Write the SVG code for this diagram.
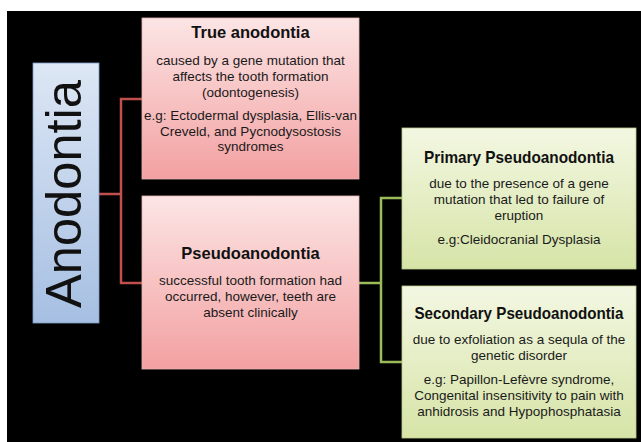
<svg xmlns="http://www.w3.org/2000/svg" width="641" height="442" viewBox="0 0 641 442">
<defs>
<linearGradient id="gBlue" x1="0" y1="0" x2="0" y2="1"><stop offset="0" stop-color="#dde7f5"/><stop offset="1" stop-color="#a6bfe2"/></linearGradient>
<linearGradient id="gPink" x1="0" y1="0" x2="0" y2="1"><stop offset="0" stop-color="#fce5e5"/><stop offset="1" stop-color="#f3a0a1"/></linearGradient>
<linearGradient id="gGreen" x1="0" y1="0" x2="0" y2="1"><stop offset="0" stop-color="#f3f7e2"/><stop offset="1" stop-color="#d6e4a7"/></linearGradient>
</defs>
<style>
.t{font-family:"Liberation Sans",Arial,sans-serif;font-size:16.5px;font-weight:bold;fill:#111;text-anchor:middle}
.b{font-family:"Liberation Sans",Arial,sans-serif;font-size:13.5px;fill:#1a1a1a;text-anchor:middle}
.red{fill:none;stroke:#c0504d;stroke-width:2.5}
.grn{fill:none;stroke:#9bbb59;stroke-width:2.5}
</style>
<rect x="0" y="0" width="641" height="442" fill="#fff"/>
<rect x="7" y="11" width="634" height="431" fill="#000"/>
<g id="connectors">
<path class="red" d="M99 194 H121 M142 99 H121 V283 H142"/>
<path class="grn" d="M359 283 H381 M402 198 H381 V362 H402"/>
</g>
<g id="anodontia">
<rect x="33" y="63" width="66" height="260" fill="url(#gBlue)" stroke="#7f9cc6" stroke-width="0.8"/>
<text transform="translate(81,194) rotate(-90)" text-anchor="middle" font-family="'Liberation Sans',Arial,sans-serif" font-size="50" fill="#111" textLength="228" lengthAdjust="spacingAndGlyphs">Anodontia</text>
</g>
<g id="true-anodontia">
<rect x="142" y="18" width="217" height="161" fill="url(#gPink)" stroke="#e8b4b4" stroke-width="0.8"/>
<text class="t" x="250.5" y="38">True anodontia</text>
<text class="b" x="250.5" y="65">caused by a gene mutation that</text>
<text class="b" x="250.5" y="81">affects the tooth formation</text>
<text class="b" x="250.5" y="97">(odontogenesis)</text>
<text class="b" x="250.5" y="120">e.g: Ectodermal dysplasia, Ellis-van</text>
<text class="b" x="250.5" y="136">Creveld, and Pycnodysostosis</text>
<text class="b" x="250.5" y="151">syndromes</text>
</g>
<g id="pseudoanodontia">
<rect x="142" y="196" width="217" height="173" fill="url(#gPink)" stroke="#e8b4b4" stroke-width="0.8"/>
<text class="t" x="250.5" y="259">Pseudoanodontia</text>
<text class="b" x="250.5" y="285">successful tooth formation had</text>
<text class="b" x="250.5" y="301">occurred, however, teeth are</text>
<text class="b" x="250.5" y="317">absent clinically</text>
</g>
<g id="primary">
<rect x="402" y="128" width="234" height="141" fill="url(#gGreen)" stroke="#b9cc8a" stroke-width="0.8"/>
<text class="t" x="519" y="163" textLength="190" lengthAdjust="spacingAndGlyphs">Primary Pseudoanodontia</text>
<text class="b" x="519" y="188">due to the presence of a gene</text>
<text class="b" x="519" y="204">mutation that led to failure of</text>
<text class="b" x="519" y="220">eruption</text>
<text class="b" x="519" y="244">e.g:Cleidocranial Dysplasia</text>
</g>
<g id="secondary">
<rect x="402" y="286" width="234" height="152" fill="url(#gGreen)" stroke="#b9cc8a" stroke-width="0.8"/>
<text class="t" x="519" y="319" textLength="209" lengthAdjust="spacingAndGlyphs">Secondary Pseudoanodontia</text>
<text class="b" x="519" y="344">due to exfoliation as a sequla of the</text>
<text class="b" x="519" y="360">genetic disorder</text>
<text class="b" x="519" y="384">e.g: Papillon-Lefèvre syndrome,</text>
<text class="b" x="519" y="400">Congenital insensitivity to pain with</text>
<text class="b" x="519" y="416">anhidrosis and Hypophosphatasia</text>
</g>
</svg>
